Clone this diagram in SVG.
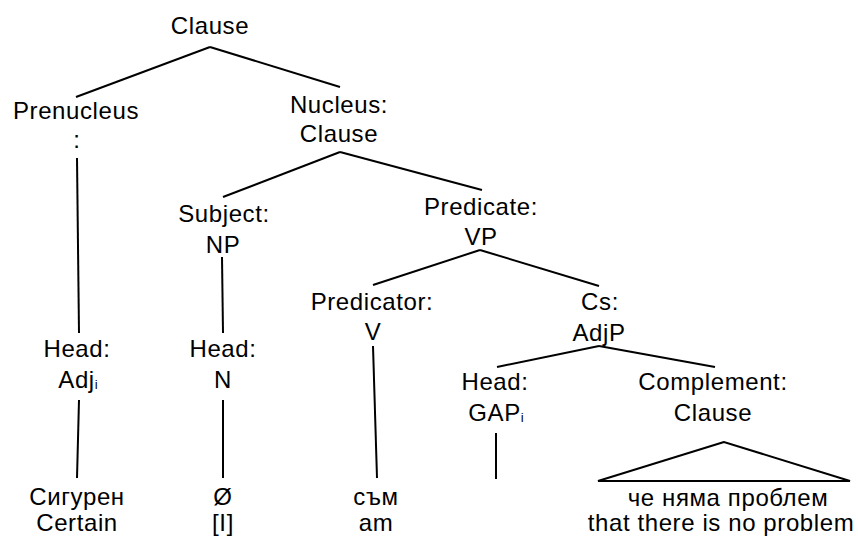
<svg xmlns="http://www.w3.org/2000/svg" width="858" height="536" viewBox="0 0 858 536">
<style>
text{font-family:"Liberation Sans",Arial,sans-serif;font-size:24px;fill:#000;text-anchor:middle;letter-spacing:0.6px}
.sub{font-size:13px;letter-spacing:0}
#connectors line,#connectors polygon{stroke:#000;stroke-width:2;fill:none;stroke-linecap:butt}
</style>
<rect width="858" height="536" fill="#fff"/>
<g id="connectors">
<line x1="210" y1="47" x2="76" y2="97"/>
<line x1="210" y1="47" x2="340" y2="87"/>
<line x1="77" y1="158" x2="79" y2="333"/>
<line x1="340" y1="152" x2="223" y2="197"/>
<line x1="340" y1="152" x2="482" y2="190"/>
<line x1="222" y1="257" x2="223" y2="333"/>
<line x1="480" y1="250" x2="373" y2="285"/>
<line x1="480" y1="250" x2="599" y2="286"/>
<line x1="79" y1="400" x2="77" y2="478"/>
<line x1="223" y1="400" x2="223" y2="478"/>
<line x1="373" y1="346" x2="377" y2="478"/>
<line x1="599" y1="346" x2="497" y2="367"/>
<line x1="599" y1="346" x2="715" y2="367"/>
<line x1="496" y1="433" x2="496" y2="479"/>
<polygon points="724,442 598,481 850,481"/>
</g>
<g id="clause-root"><text x="210" y="34">Clause</text></g>
<g id="prenucleus"><text x="76" y="119">Prenucleus</text><text x="77" y="148">:</text></g>
<g id="nucleus"><text x="339" y="113">Nucleus:</text><text x="339" y="142">Clause</text></g>
<g id="subject"><text x="224" y="222">Subject:</text><text x="223" y="253">NP</text></g>
<g id="predicate"><text x="481" y="215">Predicate:</text><text x="481" y="245">VP</text></g>
<g id="head-adj"><text x="77" y="357">Head:</text><text x="78" y="388">Adj<tspan class="sub" dy="1">i</tspan></text></g>
<g id="head-n"><text x="223" y="357">Head:</text><text x="223" y="388">N</text></g>
<g id="predicator"><text x="372" y="310">Predicator:</text><text x="373" y="340">V</text></g>
<g id="cs"><text x="600" y="310">Cs:</text><text x="599" y="341">AdjP</text></g>
<g id="head-gap"><text x="495" y="390">Head:</text><text x="496" y="421">GAP<tspan class="sub" dy="1">i</tspan></text></g>
<g id="complement"><text x="713" y="390">Complement:</text><text x="713" y="421">Clause</text></g>
<g id="word-sigouren"><text x="77" y="505">Сигурен</text><text x="77" y="531">Certain</text></g>
<g id="word-null"><text x="223" y="505">Ø</text><text x="223" y="531">[I]</text></g>
<g id="word-sam"><text x="376" y="505">съм</text><text x="376" y="531">am</text></g>
<g id="word-clause"><text x="728" y="506">че няма проблем</text><text x="721" y="531">that there is no problem</text></g>
</svg>
